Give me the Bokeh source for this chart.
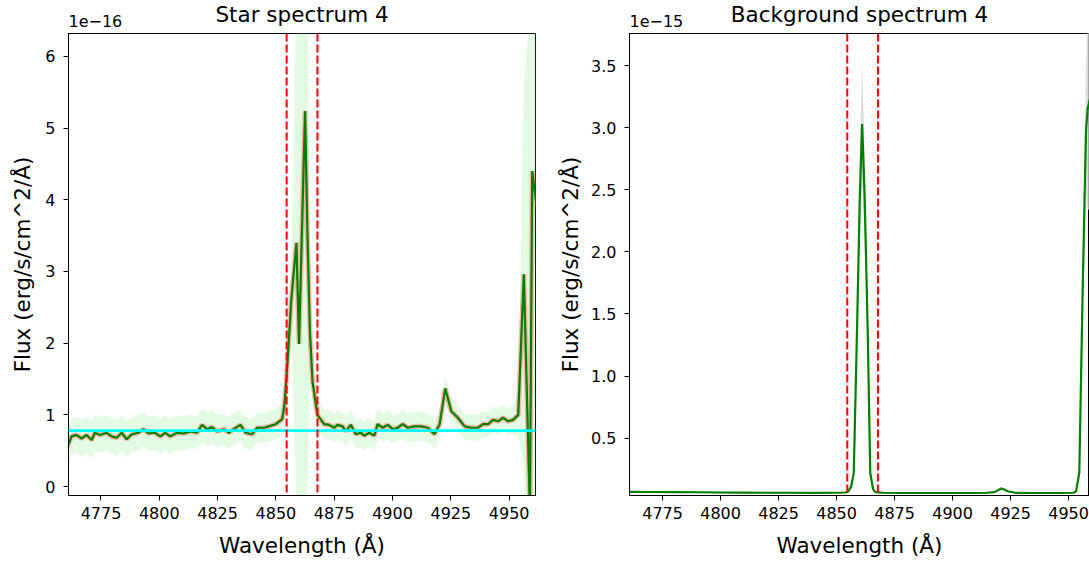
from bokeh.plotting import figure
from bokeh.models import Range1d, FixedTicker, Span, Title, NumeralTickFormatter
from bokeh.layouts import row
from bokeh.embed import file_html
from bokeh.resources import INLINE

FONT = "DejaVu Sans"

# ---------------- data ----------------
line_window = [4854.6, 4867.8]          # Angstrom, red dashed window
continuum_level = 0.78                  # 1e-16, cyan line

star_wl = [4760.3, 4762.4, 4764.5, 4766.7, 4768.8, 4771.0, 4772.4, 4774.6, 4777.4, 4779.6,
           4781.7, 4783.9, 4786.0, 4788.2, 4791.0, 4793.2, 4795.4, 4798.2, 4800.4, 4802.5,
           4804.7, 4807.6, 4810.4, 4813.3, 4816.2, 4818.3, 4820.5, 4822.6, 4824.8, 4827.6,
           4829.8, 4831.9, 4834.8, 4837.0, 4839.8, 4842.0, 4844.9, 4847.0, 4849.9, 4852.7,
           4853.6, 4854.9, 4856.6, 4858.8, 4859.9, 4862.5, 4863.5, 4864.6, 4865.7, 4867.8,
           4870.7, 4872.8, 4875.0, 4876.4, 4878.6, 4880.0, 4882.1, 4884.3, 4886.4, 4887.9,
           4890.0, 4892.2, 4893.6, 4895.8, 4897.9, 4900.1, 4902.2, 4904.4, 4906.5, 4909.4,
           4912.3, 4915.1, 4918.0, 4920.2, 4922.6, 4925.2, 4928.0, 4930.9, 4933.8, 4936.6,
           4938.8, 4941.0, 4943.1, 4945.3, 4947.4, 4949.6, 4951.7, 4953.9, 4956.3, 4958.9,
           4959.9, 4961.8]
star_flux = [0.53, 0.70, 0.72, 0.67, 0.72, 0.65, 0.75, 0.72, 0.75, 0.70,
             0.68, 0.75, 0.66, 0.73, 0.75, 0.80, 0.74, 0.75, 0.70, 0.75,
             0.70, 0.75, 0.74, 0.77, 0.75, 0.86, 0.80, 0.83, 0.77, 0.80,
             0.75, 0.80, 0.86, 0.75, 0.73, 0.82, 0.82, 0.84, 0.87, 0.94,
             1.12, 1.70, 2.61, 3.40, 1.99, 5.24, 3.54, 2.15, 1.46, 1.00,
             0.87, 0.86, 0.82, 0.86, 0.84, 0.77, 0.86, 0.73, 0.75, 0.71,
             0.75, 0.71, 0.87, 0.82, 0.86, 0.80, 0.82, 0.87, 0.82, 0.84,
             0.84, 0.82, 0.73, 0.87, 1.37, 1.05, 0.96, 0.84, 0.82, 0.82,
             0.87, 0.87, 0.93, 0.91, 0.96, 0.91, 0.93, 1.00, 2.96, -0.35,
             4.40, 3.90]
star_err = [0.26, 0.25, 0.25, 0.26, 0.25, 0.26, 0.25, 0.25, 0.24, 0.25,
            0.25, 0.24, 0.25, 0.24, 0.24, 0.24, 0.24, 0.24, 0.24, 0.24,
            0.24, 0.24, 0.24, 0.23, 0.23, 0.23, 0.23, 0.23, 0.23, 0.22,
            0.22, 0.22, 0.22, 0.22, 0.22, 0.21, 0.21, 0.21, 0.21, 0.22,
            0.25, 0.30, 0.35, 3.60, 4.50, 5.50, 3.70, 0.40, 0.30, 0.22,
            0.20, 0.20, 0.20, 0.20, 0.20, 0.20, 0.20, 0.20, 0.20, 0.20,
            0.20, 0.20, 0.20, 0.20, 0.20, 0.20, 0.20, 0.20, 0.20, 0.20,
            0.20, 0.20, 0.20, 0.20, 0.18, 0.18, 0.18, 0.18, 0.18, 0.18,
            0.18, 0.18, 0.18, 0.18, 0.18, 0.18, 0.20, 0.30, 2.60, 7.00,
            4.50, 4.50]

bg_wl = [4760.0, 4770.0, 4780.0, 4790.0, 4800.0, 4810.0, 4820.0, 4830.0, 4840.0, 4850.0,
         4853.8, 4855.0, 4856.3, 4857.4, 4858.8, 4860.0, 4861.0, 4862.1, 4863.4, 4864.5,
         4865.7, 4866.7, 4870.0, 4880.0, 4890.0, 4900.0, 4910.0, 4915.0, 4918.0, 4920.0,
         4921.0, 4922.0, 4924.0, 4927.0, 4935.0, 4945.0, 4952.0, 4953.2, 4954.6, 4956.0,
         4957.5, 4958.2, 4960.0]
bg_flux = [0.068, 0.066, 0.065, 0.064, 0.062, 0.061, 0.060, 0.060, 0.059, 0.060,
           0.062, 0.070, 0.110, 0.220, 1.370, 2.440, 3.030, 2.440, 1.370, 0.220,
           0.090, 0.065, 0.060, 0.058, 0.058, 0.058, 0.058, 0.060, 0.065, 0.085,
           0.095, 0.088, 0.070, 0.060, 0.058, 0.058, 0.060, 0.070, 0.220, 1.640,
           2.980, 3.150, 3.300]
bg_err = [0.006, 0.006, 0.006, 0.006, 0.006, 0.006, 0.006, 0.006, 0.006, 0.006,
          0.006, 0.008, 0.015, 0.030, 0.150, 0.350, 0.500, 0.350, 0.150, 0.030,
          0.010, 0.006, 0.006, 0.006, 0.006, 0.006, 0.006, 0.006, 0.006, 0.008,
          0.010, 0.008, 0.006, 0.006, 0.006, 0.006, 0.006, 0.008, 0.030, 0.250,
          0.500, 0.800, 1.000]

x_ticks = [4775, 4800, 4825, 4850, 4875, 4900, 4925, 4950]
star_yticks = [0, 1, 2, 3, 4, 5, 6]
bg_yticks = [0.5, 1.0, 1.5, 2.0, 2.5, 3.0, 3.5]


def style(p, ylabel_standoff, title_text, exponent_text):
    # exponent text (closest to the frame, left aligned)
    p.add_layout(Title(text=exponent_text, align="left", text_font=FONT,
                       text_font_size="16px", text_font_style="normal",
                       text_color="black", standoff=13), "above")
    # main title (stacked above, pulled down to overlap like matplotlib)
    p.add_layout(Title(text=title_text, align="center", text_font=FONT,
                       text_font_size="21.5px", text_font_style="normal",
                       text_color="black", standoff=-40), "above")
    for ax in list(p.xaxis) + list(p.yaxis):
        ax.axis_label_text_font = FONT
        ax.axis_label_text_font_size = "21.5px"
        ax.axis_label_text_font_style = "normal"
        ax.axis_label_text_color = "black"
        ax.major_label_text_font = FONT
        ax.major_label_text_font_size = "16px"
        ax.major_label_text_color = "black"
        ax.major_tick_out = 5
        ax.major_tick_in = 0
        ax.minor_tick_out = 0
        ax.minor_tick_in = 0
        ax.axis_line_color = "black"
        ax.major_tick_line_color = "black"
    p.xaxis.major_label_standoff = 6
    p.xaxis.axis_label_standoff = 11
    p.yaxis.major_label_standoff = 8
    p.yaxis.axis_label_standoff = ylabel_standoff
    p.xgrid.visible = False
    p.ygrid.visible = False
    p.outline_line_color = "black"
    p.outline_line_alpha = 1
    p.xaxis.ticker = FixedTicker(ticks=x_ticks)
    p.background_fill_color = "white"
    p.border_fill_color = "white"


# ---------------- left: star ----------------
p1 = figure(width=555, height=568, output_backend="svg", toolbar_location=None,
            title=None,
            x_range=Range1d(4761.07, 4961.3), y_range=Range1d(-0.125, 6.32),
            min_border_left=68, min_border_right=20, min_border_top=33, min_border_bottom=73)
style(p1, 7, "Star spectrum 4", "1e\u221216")
p1.yaxis.ticker = FixedTicker(ticks=star_yticks)
p1.xaxis.axis_label = "Wavelength (Å)"
p1.yaxis.axis_label = "Flux (erg/s/cm^2/Å)"

lo = [f - e for f, e in zip(star_flux, star_err)]
hi = [f + e for f, e in zip(star_flux, star_err)]
p1.varea(x=star_wl, y1=lo, y2=hi, fill_color="lightgreen", fill_alpha=0.25)
p1.line(star_wl, star_flux, line_color="salmon", line_width=5, line_alpha=0.55)
p1.line(star_wl, star_flux, line_color="green", line_width=2.2)
p1.add_layout(Span(location=continuum_level, dimension="width", line_color="cyan", line_width=2.8))
for w in line_window:
    p1.add_layout(Span(location=w, dimension="height", line_color="red", line_width=2,
                       line_dash="8 3"))

# ---------------- right: background ----------------
p2 = figure(width=534, height=568, output_backend="svg", toolbar_location=None,
            title=None,
            x_range=Range1d(4760.74, 4959.0), y_range=Range1d(0.038, 3.758),
            min_border_left=72, min_border_right=0, min_border_top=33, min_border_bottom=73)
style(p2, 5, "Background spectrum 4", "1e\u221215")
p2.yaxis.ticker = FixedTicker(ticks=bg_yticks)
p2.yaxis.formatter = NumeralTickFormatter(format="0.0")
p2.xaxis.axis_label = "Wavelength (Å)"
p2.yaxis.axis_label = "Flux (erg/s/cm^2/Å)"

lo2 = [f - e for f, e in zip(bg_flux, bg_err)]
hi2 = [f + e for f, e in zip(bg_flux, bg_err)]
p2.varea(x=bg_wl, y1=lo2, y2=hi2, fill_color="lightgray", fill_alpha=0.8)
p2.line(bg_wl, bg_flux, line_color="green", line_width=2.2)
for w in line_window:
    p2.add_layout(Span(location=w, dimension="height", line_color="red", line_width=2,
                       line_dash="8 3"))

layout = row(p1, p2)
open("out.html", "w").write(file_html(layout, INLINE))
